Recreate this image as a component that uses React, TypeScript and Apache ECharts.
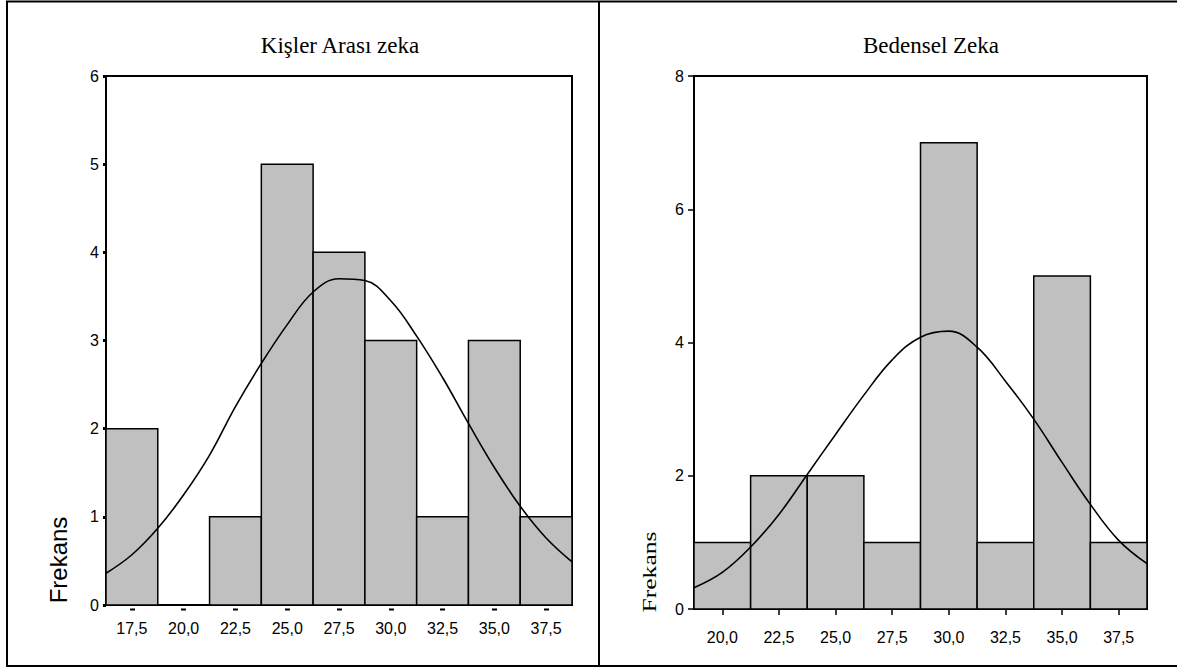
import React, { useEffect, useRef } from "react";
import * as echarts from "echarts";

// ---- Left panel: Kişler Arası zeka ----
const leftTitle = "Kişler Arası zeka";
const leftBinCenters = [17.5, 20.0, 22.5, 25.0, 27.5, 30.0, 32.5, 35.0, 37.5];
const leftCounts = [2, 0, 1, 5, 4, 3, 1, 3, 1];
const leftTickValues = [17.5, 20.0, 22.5, 25.0, 27.5, 30.0, 32.5, 35.0, 37.5];
const leftYTicks = [0, 1, 2, 3, 4, 5, 6];
const leftCurveX = [16.25, 17.5, 18.75, 20, 21.25, 22.5, 23.75, 25, 26.25, 27.5, 28.75, 30, 31.25, 32.5, 33.75, 35, 36.25, 37.5, 38.75];
const leftCurveY = [0.36, 0.57, 0.87, 1.25, 1.7, 2.25, 2.74, 3.18, 3.55, 3.7, 3.68, 3.45, 3.05, 2.58, 2.06, 1.56, 1.12, 0.76, 0.49];

// ---- Right panel: Bedensel Zeka ----
const rightTitle = "Bedensel Zeka";
const rightBinCenters = [20.0, 22.5, 25.0, 27.5, 30.0, 32.5, 35.0, 37.5];
const rightCounts = [1, 2, 2, 1, 7, 1, 5, 1];
const rightTickValues = [20.0, 22.5, 25.0, 27.5, 30.0, 32.5, 35.0, 37.5];
const rightYTicks = [0, 2, 4, 6, 8];
const rightCurveX = [18.75, 20, 21.25, 22.5, 23.75, 25, 26.25, 27.5, 28.75, 30, 31.25, 32.5, 33.75, 35, 36.25, 37.5, 38.75];
const rightCurveY = [0.32, 0.55, 0.93, 1.42, 2.02, 2.62, 3.21, 3.74, 4.08, 4.17, 3.93, 3.42, 2.85, 2.2, 1.57, 1.03, 0.68];

const binWidth = 2.5;
const yName = "Frekans";

const SANS = "'Liberation Sans', Arial, sans-serif";
const SERIF = "'Liberation Serif', 'Times New Roman', serif";

function binData(centers: number[], counts: number[]) {
  return centers.map((c, i) => [c - binWidth / 2, c + binWidth / 2, counts[i]]);
}
function curveData(xs: number[], ys: number[]) {
  return xs.map((x, i) => [x, ys[i]]);
}
const fmt = (v: number) => Number(v).toFixed(1).replace(".", ",");

const renderBar = (params: any, api: any) => {
  const x0 = api.value(0);
  const x1 = api.value(1);
  const c = api.value(2);
  if (!(c > 0)) return null;
  const p0 = api.coord([x0, c]);
  const p1 = api.coord([x1, 0]);
  return {
    type: "rect",
    shape: { x: p0[0], y: p0[1], width: p1[0] - p0[0], height: p1[1] - p0[1] },
    style: { fill: "#c0c0c0", stroke: "#000", lineWidth: 1.5 },
  };
};

export default function App() {
  const ref = useRef<HTMLDivElement>(null);
  useEffect(() => {
    document.body.style.margin = "0";
    const chart = echarts.init(ref.current!, undefined, { renderer: "svg" });
    const axisLabelBase = { color: "#000", fontFamily: SANS, fontSize: 16 };
    chart.setOption({
      animation: false,
      backgroundColor: "#fff",
      grid: [
        { left: 106, top: 76, width: 466, height: 529, show: true, borderColor: "#000", borderWidth: 2, backgroundColor: "transparent" },
        { left: 694, top: 76, width: 453, height: 533, show: true, borderColor: "#000", borderWidth: 2, backgroundColor: "transparent" },
      ],
      xAxis: [
        {
          type: "value", gridIndex: 0, min: 16.25, max: 38.75,
          splitLine: { show: false },
          axisLine: { show: true, lineStyle: { color: "#000", width: 2 } },
          axisTick: { show: true, customValues: leftTickValues, length: 6, lineStyle: { color: "#000", width: 5, type: [0, 3.5, 2, 20] } },
          axisLabel: { ...axisLabelBase, customValues: leftTickValues, margin: 15, formatter: fmt },
        },
        {
          type: "value", gridIndex: 1, min: 18.75, max: 38.75,
          splitLine: { show: false },
          axisLine: { show: true, lineStyle: { color: "#000", width: 2 } },
          axisTick: { show: true, customValues: rightTickValues, length: 6, lineStyle: { color: "#000", width: 1.5 } },
          axisLabel: { ...axisLabelBase, customValues: rightTickValues, margin: 20, formatter: fmt },
        },
      ],
      yAxis: [
        {
          type: "value", gridIndex: 0, min: leftYTicks[0], max: leftYTicks[leftYTicks.length - 1], interval: 1,
          splitLine: { show: false },
          axisLine: { show: true, lineStyle: { color: "#000", width: 2 } },
          axisTick: { show: true, length: 3, lineStyle: { color: "#000", width: 3 } },
          axisLabel: { ...axisLabelBase, margin: 7 },
        },
        {
          type: "value", gridIndex: 1, min: rightYTicks[0], max: rightYTicks[rightYTicks.length - 1], interval: 2,
          splitLine: { show: false },
          axisLine: { show: true, lineStyle: { color: "#000", width: 2 } },
          axisTick: { show: true, length: 6, lineStyle: { color: "#000", width: 1.5 } },
          axisLabel: { ...axisLabelBase, margin: 10 },
        },
      ],
      series: [
        { type: "custom", xAxisIndex: 0, yAxisIndex: 0, renderItem: renderBar, encode: { x: [0, 1], y: 2 }, data: binData(leftBinCenters, leftCounts), z: 2 },
        { type: "line", xAxisIndex: 0, yAxisIndex: 0, data: curveData(leftCurveX, leftCurveY), smooth: 0.4, showSymbol: false, symbol: "none", lineStyle: { color: "#000", width: 1.6 }, z: 3 },
        { type: "custom", xAxisIndex: 1, yAxisIndex: 1, renderItem: renderBar, encode: { x: [0, 1], y: 2 }, data: binData(rightBinCenters, rightCounts), z: 2 },
        { type: "line", xAxisIndex: 1, yAxisIndex: 1, data: curveData(rightCurveX, rightCurveY), smooth: 0.4, showSymbol: false, symbol: "none", lineStyle: { color: "#000", width: 1.6 }, z: 3 },
      ],
      graphic: [
        { type: "rect", shape: { x: 7, y: 1.5, width: 1185, height: 664.5 }, style: { fill: "none", stroke: "#000", lineWidth: 2 }, z: 10 },
        { type: "line", shape: { x1: 599, y1: 1, x2: 599, y2: 666 }, style: { stroke: "#000", lineWidth: 2 }, z: 10 },
        { type: "text", x: 340, y: 45, style: { text: leftTitle, font: `23px ${SERIF}`, fill: "#000", textAlign: "center", textVerticalAlign: "middle" } },
        { type: "text", x: 931, y: 45, style: { text: rightTitle, font: `23px ${SERIF}`, fill: "#000", textAlign: "center", textVerticalAlign: "middle" } },
        { type: "text", x: 58, y: 560, rotation: Math.PI / 2, style: { text: yName, font: `24px ${SANS}`, fill: "#000", textAlign: "center", textVerticalAlign: "middle" } },
        { type: "text", x: 650, y: 572, rotation: Math.PI / 2, scaleX: 1.35, style: { text: yName, font: `19px ${SERIF}`, fill: "#000", textAlign: "center", textVerticalAlign: "middle" } },
      ],
    });
    return () => chart.dispose();
  }, []);
  return <div ref={ref} style={{ width: 1177, height: 668 }} />;
}
